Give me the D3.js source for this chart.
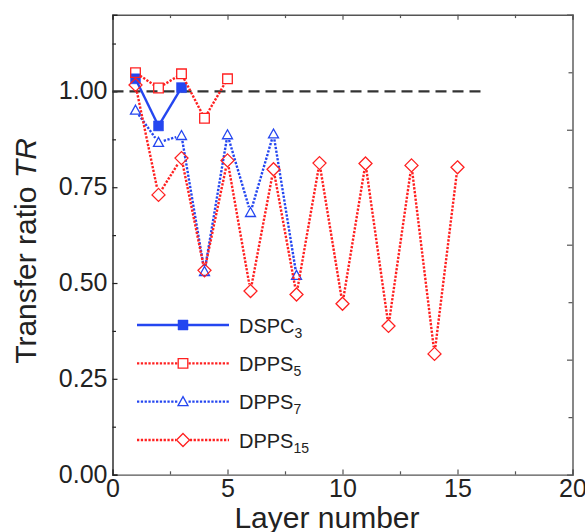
<!DOCTYPE html>
<html><head><meta charset="utf-8">
<script src="https://cdn.jsdelivr.net/npm/d3@7"></script>
<style>body{margin:0;background:#fff}svg{display:block}</style>
</head><body><svg id="c" width="585" height="532"></svg>
<script>
// ---- data ----
const layersDSPC3 = [1, 2, 3];
const valuesDSPC3 = [1.033, 0.910, 1.010];
const layersDPPS5 = [1, 2, 3, 4, 5];
const valuesDPPS5 = [1.049, 1.009, 1.046, 0.930, 1.033];
const layersDPPS7 = [1, 2, 3, 4, 5, 6, 7, 8];
const valuesDPPS7 = [0.951, 0.867, 0.885, 0.530, 0.887, 0.684, 0.889, 0.520];
const layersDPPS15 = [1, 2, 3, 4, 5, 6, 7, 8, 9, 10, 11, 12, 13, 14, 15];
const valuesDPPS15 = [1.017, 0.730, 0.826, 0.533, 0.820, 0.479, 0.797, 0.470, 0.813, 0.446, 0.812, 0.388, 0.807, 0.315, 0.802];
const seriesBase = ["DSPC", "DPPS", "DPPS", "DPPS"];
const seriesSub = ["3", "5", "7", "15"];
const xTicks = [0, 5, 10, 15, 20];
const xMinorTicks = [2.5, 7.5, 12.5, 17.5];
const yTicks = [0.00, 0.25, 0.50, 0.75, 1.00];
const yMinorTicks = [0.125, 0.375, 0.625, 0.875, 1.125];
const rightTicksMajor = [2, 4, 6];
const rightTicksMinor = [1, 3, 5, 7];
const refValue = 1.0;
const refRange = [0, 16];
const xTitle = "Layer number";
const yTitle = "Transfer ratio ";
const yTitleItalic = "TR";

// ---- styles ----
const RED = "#ff2020", BLUE = "#2446f0";
const styles = [
  {color: BLUE, dash: null, width: 2.4, shape: "square", fill: true, r: 5, gap: 0},
  {color: RED, dash: "2.3,1.5", width: 2.4, shape: "square", fill: false, r: 4.8, gap: 5.5},
  {color: BLUE, dash: "2.3,1.5", width: 2.4, shape: "triangle", fill: false, r: 5, gap: 5.5},
  {color: RED, dash: "2.3,1.5", width: 2.4, shape: "diamond", fill: false, r: 6.5, gap: 6.8}
];
const series = [
  {x: layersDSPC3, y: valuesDSPC3},
  {x: layersDPPS5, y: valuesDPPS5},
  {x: layersDPPS7, y: valuesDPPS7},
  {x: layersDPPS15, y: valuesDPPS15}
];

const svg = d3.select("#c");
const FONT = "'Liberation Sans', Arial, Helvetica, sans-serif";
const L = 112.5, R = 572.5, T = 14.8, B = 474.6;
const x = d3.scaleLinear().domain([0, 20]).range([L, R]);
const y = d3.scaleLinear().domain([0, 1.2]).range([B, T]);
const yR = d3.scaleLinear().domain([0, 8]).range([B, T]);

function markerPath(shape, r) {
  if (shape === "square") return `M${-r},${-r}H${r}V${r}H${-r}Z`;
  if (shape === "triangle") return `M0,${-r}L${r},${r*0.8}L${-r},${r*0.8}Z`;
  return `M0,${-r}L${r},0L0,${r}L${-r},0Z`;
}

// axes
function styleAxis(g, color, fs) {
  g.selectAll(".domain").attr("stroke", color).attr("stroke-width", 1.4);
  g.selectAll(".tick line").attr("stroke", color).attr("stroke-width", 1.2);
  g.selectAll("text").attr("font-family", FONT).attr("font-size", fs).attr("fill", "#222");
}
const gx = svg.append("g").attr("transform", `translate(0,${B})`)
  .call(d3.axisBottom(x).tickValues(xTicks).tickSize(-5).tickPadding(4.5).tickFormat(d3.format("d")));
styleAxis(gx, "#555", 25);
const gxm = svg.append("g").attr("transform", `translate(0,${B})`)
  .call(d3.axisBottom(x).tickValues(xMinorTicks).tickSize(-3.3).tickFormat(""));
styleAxis(gxm, "#555", 25); gxm.select(".domain").remove();

const gt = svg.append("g").attr("transform", `translate(0,${T})`)
  .call(d3.axisTop(x).tickValues(xTicks).tickSize(-5).tickFormat(""));
styleAxis(gt, "#555", 25);
const gtm = svg.append("g").attr("transform", `translate(0,${T})`)
  .call(d3.axisTop(x).tickValues(xMinorTicks).tickSize(-3.3).tickFormat(""));
styleAxis(gtm, "#555", 25); gtm.select(".domain").remove();

const gr = svg.append("g").attr("transform", `translate(${R},0)`)
  .call(d3.axisRight(yR).tickValues(rightTicksMajor).tickSize(-5.5).tickFormat(""));
styleAxis(gr, "#555", 25);
const grm = svg.append("g").attr("transform", `translate(${R},0)`)
  .call(d3.axisRight(yR).tickValues(rightTicksMinor).tickSize(-4).tickFormat(""));
styleAxis(grm, "#555", 25); grm.select(".domain").remove();

const gy = svg.append("g").attr("transform", `translate(${L},0)`)
  .call(d3.axisLeft(y).tickValues(yTicks).tickSize(-5).tickPadding(5).tickFormat(d3.format(".2f")));
styleAxis(gy, "#222", 25);
gy.selectAll("text").attr("dy", "0.30em");
const gym = svg.append("g").attr("transform", `translate(${L},0)`)
  .call(d3.axisLeft(y).tickValues(yMinorTicks).tickSize(-3.5).tickFormat(""));
styleAxis(gym, "#222", 25); gym.select(".domain").remove();

// reference dashed line
svg.append("line")
  .attr("x1", x(refRange[0])).attr("x2", x(refRange[1]))
  .attr("y1", y(refValue)).attr("y2", y(refValue))
  .attr("stroke", "#333").attr("stroke-width", 2.3).attr("stroke-dasharray", "11,6");

// series
series.forEach((s, i) => {
  const st = styles[i];
  const g = svg.append("g");
  const pts = s.x.map((v, k) => [x(v), y(s.y[k])]);
  for (let k = 0; k < pts.length - 1; k++) {
    const [x1, y1] = pts[k], [x2, y2] = pts[k + 1];
    const dx = x2 - x1, dy = y2 - y1, len = Math.hypot(dx, dy);
    if (len <= 2 * st.gap) continue;
    const ux = dx / len, uy = dy / len;
    g.append("line")
      .attr("x1", x1 + ux * st.gap).attr("y1", y1 + uy * st.gap)
      .attr("x2", x2 - ux * st.gap).attr("y2", y2 - uy * st.gap)
      .attr("stroke", st.color).attr("stroke-width", st.width)
      .attr("stroke-dasharray", st.dash);
  }
  g.selectAll("path.m").data(pts).join("path")
    .attr("class", "m")
    .attr("transform", d => `translate(${d[0]},${d[1]})`)
    .attr("d", markerPath(st.shape, st.r))
    .attr("fill", st.fill ? st.color : "none")
    .attr("stroke", st.color).attr("stroke-width", st.fill ? 0.5 : 1.3);
});

// legend
const legY = d3.scaleLinear().domain([0, 3]).range([325, 440]);
const legX1 = 137, legX2 = 229, legM = 183, legT = 239;
seriesBase.forEach((name, i) => {
  const st = styles[i];
  const yy = legY(i);
  const g = svg.append("g");
  g.append("line").attr("x1", legX1).attr("x2", legM - st.gap).attr("y1", yy).attr("y2", yy)
    .attr("stroke", st.color).attr("stroke-width", st.width).attr("stroke-dasharray", st.dash);
  g.append("line").attr("x1", legM + st.gap).attr("x2", legX2).attr("y1", yy).attr("y2", yy)
    .attr("stroke", st.color).attr("stroke-width", st.width).attr("stroke-dasharray", st.dash);
  g.append("path").attr("transform", `translate(${legM},${yy})`)
    .attr("d", markerPath(st.shape, st.r))
    .attr("fill", st.fill ? st.color : "#fff")
    .attr("stroke", st.color).attr("stroke-width", st.fill ? 0.5 : 1.3);
  const t = g.append("text").attr("x", legT).attr("y", yy + 7.5)
    .attr("font-family", FONT).attr("font-size", 20).attr("fill", "#222");
  t.append("tspan").text(name);
  t.append("tspan").attr("font-size", 14).attr("dy", 5).text(seriesSub[i]);
});

// titles
svg.append("text").attr("x", 327).attr("y", 528)
  .attr("text-anchor", "middle").attr("font-family", FONT).attr("font-size", 30).attr("fill", "#222")
  .text(xTitle);
const yt = svg.append("text").attr("transform", "translate(36,251) rotate(-90)")
  .attr("text-anchor", "middle").attr("font-family", FONT).attr("font-size", 30).attr("fill", "#222");
yt.append("tspan").text(yTitle);
yt.append("tspan").attr("font-style", "italic").text(yTitleItalic);
</script>
</body></html>
